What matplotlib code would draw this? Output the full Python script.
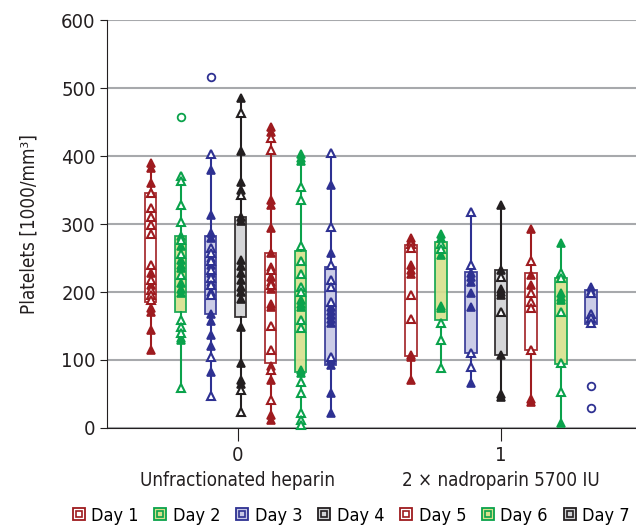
import matplotlib
matplotlib.use('Agg')
import matplotlib.pyplot as plt
from matplotlib.lines import Line2D

plt.rcParams['font.family'] = ['DejaVu Sans']
plt.rcParams['font.stretch'] = 'condensed'

days = ['Day 1', 'Day 2', 'Day 3', 'Day 4', 'Day 5', 'Day 6', 'Day 7']
groups = ['Unfractionated heparin', '2 \u00d7 nadroparin 5700 IU']
group_ticks = ['0', '1']

# box statistics, unfractionated heparin (group 0)
ufh_q1 = [185, 170, 168, 163, 95, 83, 93]
ufh_q3 = [345, 282, 282, 310, 257, 260, 237]
ufh_lo = [115, 59, 47, 24, 9, 3, 22]
ufh_hi = [392, 370, 403, 485, 445, 403, 405]
ufh_out = [[], [458], [517], [], [], [], []]
ufh_filled = [
    [390, 383, 360, 345, 228, 210, 176, 170, 144, 115],
    [283, 268, 247, 240, 236, 213, 205, 199, 132, 130],
    [380, 313, 287, 280, 250, 240, 228, 215, 200, 168, 158, 137, 120, 83],
    [485, 408, 362, 350, 310, 305, 247, 238, 228, 218, 208, 200, 190, 149, 96, 70, 65],
    [443, 435, 335, 328, 294, 257, 237, 222, 215, 205, 183, 178, 91, 71, 19, 12],
    [403, 397, 392, 188, 183, 178, 85, 81],
    [357, 257, 178, 172, 166, 160, 154, 100, 93, 51, 22],
]
ufh_open = [
    [346, 323, 311, 298, 286, 240, 218, 203, 196, 188],
    [370, 363, 328, 303, 277, 256, 225, 159, 149, 140, 59],
    [403, 265, 258, 245, 232, 220, 210, 195, 105, 47],
    [463, 343, 56, 24],
    [426, 409, 232, 210, 150, 115, 85, 41],
    [355, 335, 268, 245, 227, 208, 200, 159, 147, 68, 51, 22, 12, 4],
    [405, 296, 240, 218, 208, 186, 105],
]

# box statistics, nadroparin (group 1)
nad_q1 = [106, 159, 110, 108, 115, 94, 153]
nad_q3 = [269, 273, 230, 233, 228, 220, 203]
nad_lo = [71, 88, 64, 44, 37, 7, 153]
nad_hi = [280, 287, 318, 328, 293, 272, 207]
nad_out = [[], [], [], [], [], [], [61, 29]]
nad_filled = [
    [280, 275, 240, 232, 226, 108, 104, 71],
    [285, 280, 255, 180, 176],
    [228, 222, 215, 198, 178, 66],
    [328, 232, 205, 200, 196, 108, 50, 45],
    [293, 225, 210, 43, 38],
    [272, 198, 192, 188, 8],
    [207, 202],
]
nad_open = [
    [270, 265, 196, 161],
    [270, 264, 155, 129, 88],
    [318, 240, 111, 89],
    [222, 171],
    [246, 199, 186, 176, 115],
    [228, 220, 171, 96, 53],
    [198, 168, 162, 155],
]

red, green, blue, black = '#9E1B1F', '#0AA24B', '#2E3192', '#231F20'
line_cols = [red, green, blue, black, red, green, blue]
fill_cols = ['white', '#D6E08C', '#C6C7E5', '#D1D2D4', 'white', '#D6E08C', '#C6C7E5']
leg_cols = [red, green, blue, black, red, green, black]
leg_fill = ['white', '#D6E08C', '#C6C7E5', '#D1D2D4', 'white', '#D6E08C', '#D1D2D4']

fig = plt.figure(figsize=(6.36, 5.29), dpi=100)
ax = fig.add_axes([0.168, 0.191, 0.832, 0.771])

step = 0.114
for g, (q1, q3, lo, hi, out, filled, opn) in enumerate([
        (ufh_q1, ufh_q3, ufh_lo, ufh_hi, ufh_out, ufh_filled, ufh_open),
        (nad_q1, nad_q3, nad_lo, nad_hi, nad_out, nad_filled, nad_open)]):
    for d in range(7):
        x = g + (d - 3) * step + (0.01 if g == 0 else 0)
        c = line_cols[d]
        st = [dict(q1=q1[d], q3=q3[d], med=q1[d], whislo=lo[d], whishi=hi[d], fliers=out[d])]
        ax.bxp(st, positions=[x], widths=0.045, patch_artist=True, showcaps=False,
               boxprops=dict(facecolor=fill_cols[d], edgecolor=c, linewidth=1.3, alpha=0.9),
               whiskerprops=dict(color=c, linewidth=1.5),
               medianprops=dict(linewidth=0),
               flierprops=dict(marker='o', markerfacecolor='none', markeredgecolor=c,
                               markersize=5.5, markeredgewidth=1.3))
        ax.plot([x] * len(filled[d]), filled[d], '^', color=c, markersize=6,
                markeredgewidth=1.2, clip_on=False, zorder=4)
        ax.plot([x] * len(opn[d]), opn[d], '^', markerfacecolor='white', markeredgecolor=c,
                markersize=6, markeredgewidth=1.5, clip_on=False, zorder=4)

ax.set_xlim(-0.498, 1.513)
ax.set_ylim(0, 600)
ax.set_yticks(range(0, 601, 100))
ax.set_xticks([0, 1])
ax.set_xticklabels(group_ticks)
ax.yaxis.grid(True, color='#A7A9AC', linewidth=1.5)
ax.set_axisbelow(True)
for s in ['top', 'right']:
    ax.spines[s].set_visible(False)
ax.spines['left'].set_color(black)
ax.spines['bottom'].set_color(black)
ax.tick_params(axis='y', length=5, labelsize=14.5, colors=black, pad=3)
ax.tick_params(axis='x', length=9, labelsize=14.5, colors=black, pad=4)
ax.set_ylabel('Platelets [1000/mm\u00b3]', fontsize=13.5, color=black, labelpad=16)

for g, name in enumerate(groups):
    ax.text(g, -0.128, name, transform=ax.get_xaxis_transform(), ha='center', va='center',
            fontsize=13.5, color=black)

handles = []
for d in range(7):
    outer = Line2D([], [], marker='s', linestyle='none', markersize=9,
                   markerfacecolor=leg_fill[d], markeredgecolor=leg_cols[d], markeredgewidth=1.3)
    inner = Line2D([], [], marker='s', linestyle='none', markersize=4,
                   markerfacecolor=leg_fill[d], markeredgecolor=leg_cols[d], markeredgewidth=1.2)
    handles.append((outer, inner))
fig.legend(handles, days, loc='center', bbox_to_anchor=(0.552, 0.025), ncol=7, frameon=False,
           fontsize=13, handlelength=0.7, handletextpad=0.35, columnspacing=0.85, borderpad=0)

fig.savefig('out.png', dpi=100)
